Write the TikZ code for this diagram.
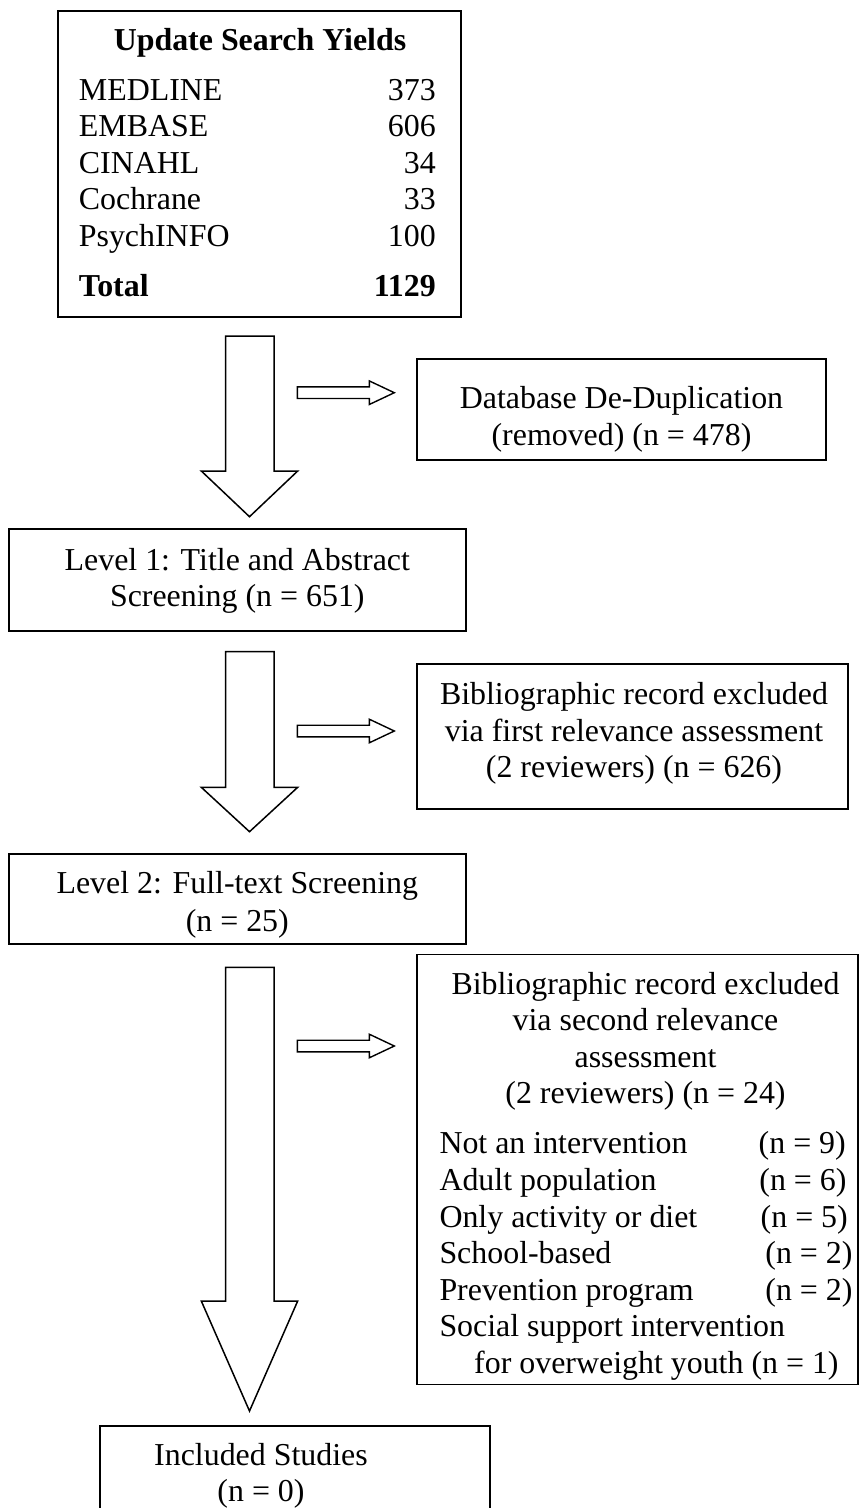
\documentclass[tikz,border=0pt]{standalone}
\usepackage{fontspec}
\setmainfont{Liberation Serif}
\newcommand{\fsz}{\fontsize{31.9}{36.7}\selectfont}
\begin{document}
\begin{tikzpicture}[x=1pt,y=-1pt,
  box/.style={draw, line width=1.8pt, inner sep=0pt, outer sep=0pt, anchor=north west},
  barrow/.style={draw, line width=1.5pt, line join=miter},
  sarrow/.style={draw, line width=1.4pt, line join=miter},
  txt/.style={inner sep=0pt, anchor=base, font=\fsz},
  txtl/.style={inner sep=0pt, anchor=base west, font=\fsz},
  txtr/.style={inner sep=0pt, anchor=base east, font=\fsz}]
\path[use as bounding box, clip] (0,0) rectangle (860,1508);
\fill[white] (0,0) rectangle (860,1508);

% ---------- boxes ----------
\node[box, minimum width=403.3pt, minimum height=305.7pt] (yields) at (57.7,11) {};
\node[box, minimum width=408.4pt, minimum height=101.3pt] (dedup) at (417.3,359) {};
\node[box, minimum width=456.7pt, minimum height=102pt] (lvl1) at (9,529) {};
\node[box, minimum width=430.4pt, minimum height=145.3pt] (excl1) at (417.3,663.7) {};
\node[box, minimum width=456.7pt, minimum height=90.3pt] (lvl2) at (9,854) {};
\node[box, minimum width=440.7pt, minimum height=430pt] (excl2) at (417.3,954.5) {};
\node[box, minimum width=390pt, minimum height=110pt] (incl) at (100,1426) {};

% ---------- block arrows (down) ----------
\draw[barrow] (225.7,336) -- (225.7,471) -- (201.3,471) -- (249.5,516.7) -- (297.7,471) -- (274,471) -- (274,336) -- cycle;
\draw[barrow] (225.7,651.7) -- (225.7,787.3) -- (201.3,787.3) -- (249.5,831.7) -- (297.7,787.3) -- (274,787.3) -- (274,651.7) -- cycle;
\draw[barrow] (225.7,967.3) -- (225.7,1301) -- (201.3,1301) -- (249.5,1411) -- (297.7,1301) -- (274,1301) -- (274,967.3) -- cycle;

% ---------- block arrows (right) ----------
\draw[sarrow] (297.3,386.9) -- (369.3,386.9) -- (369.3,380.9) -- (394.3,392.7) -- (369.3,404.5) -- (369.3,398.5) -- (297.3,398.5) -- cycle;
\draw[sarrow] (297.3,725.2) -- (369.3,725.2) -- (369.3,719.2) -- (394.3,731) -- (369.3,742.8) -- (369.3,736.8) -- (297.3,736.8) -- cycle;
\draw[sarrow] (297.3,1040.2) -- (369.3,1040.2) -- (369.3,1034.2) -- (394.3,1046) -- (369.3,1057.8) -- (369.3,1051.8) -- (297.3,1051.8) -- cycle;

% ---------- texts: search yields ----------
\node[txt] (ytitle) at (260,50) {\bfseries Update Search Yields};
\node[txtl] (ya) at (78.7,100) {MEDLINE};   \node[txtr] (yan) at (436,100) {373};
\node[txtl] (yb) at (78.7,136.7) {EMBASE};  \node[txtr] (ybn) at (436,136.7) {606};
\node[txtl] (yc) at (78.7,173.3) {CINAHL};  \node[txtr] (ycn) at (436,173.3) {34};
\node[txtl] (yd) at (78.7,209.3) {Cochrane}; \node[txtr] (ydn) at (436,209.3) {33};
\node[txtl] (ye) at (78.7,246.7) {PsychINFO}; \node[txtr] (yen) at (436,246.7) {100};
\node[txtl] (yf) at (78.7,296.7) {\bfseries Total}; \node[txtr] (yfn) at (436,296.7) {\bfseries 1129};

% ---------- de-duplication ----------
\node[txt] (d1) at (621.5,408.3) {Database De-Duplication};
\node[txt] (d2) at (621.5,445) {(removed) (n = 478)};

% ---------- level 1 ----------
\node[txt] (l1a) at (237.3,570) {Level 1: Title and Abstract};
\node[txt] (l1b) at (237.3,606.7) {Screening (n = 651)};

% ---------- exclusion 1 ----------
\node[txt] (e1a) at (634,704.3) {Bibliographic record excluded};
\node[txt] (e1b) at (634,741) {via first relevance assessment};
\node[txt] (e1c) at (634,777.7) {(2 reviewers) (n = 626)};

% ---------- level 2 ----------
\node[txt] (l2a) at (237.3,893.3) {Level 2: Full-text Screening};
\node[txt] (l2b) at (237.3,931) {(n = 25)};

% ---------- exclusion 2 ----------
\node[txt] (e2a) at (645.5,994.3) {Bibliographic record excluded};
\node[txt] (e2b) at (645.5,1030.7) {via second relevance};
\node[txt] (e2c) at (645.5,1067) {assessment};
\node[txt] (e2d) at (645.5,1103.3) {(2 reviewers) (n = 24)};
\node[txtl] (r1) at (439.3,1153.3) {Not an intervention};   \node[txtr] (r1n) at (846,1153.3) {(n = 9)};
\node[txtl] (r2) at (439.3,1190.3) {Adult population};      \node[txtr] (r2n) at (846.7,1190.3) {(n = 6)};
\node[txtl] (r3) at (439.3,1227) {Only activity or diet};   \node[txtr] (r3n) at (848,1227) {(n = 5)};
\node[txtl] (r4) at (439.3,1263.5) {School-based};          \node[txtr] (r4n) at (852.7,1263.5) {(n = 2)};
\node[txtl] (r5) at (439.3,1300) {Prevention program};      \node[txtr] (r5n) at (852.7,1300) {(n = 2)};
\node[txtl] (r6) at (439.3,1336.7) {Social support intervention};
\node[txtl] (r7) at (474,1373.3) {for overweight youth (n = 1)};

% ---------- included ----------
\node[txt] (i1) at (261,1465.7) {Included Studies};
\node[txt] (i2) at (261,1501.7) {(n = 0)};
\end{tikzpicture}
\end{document}
